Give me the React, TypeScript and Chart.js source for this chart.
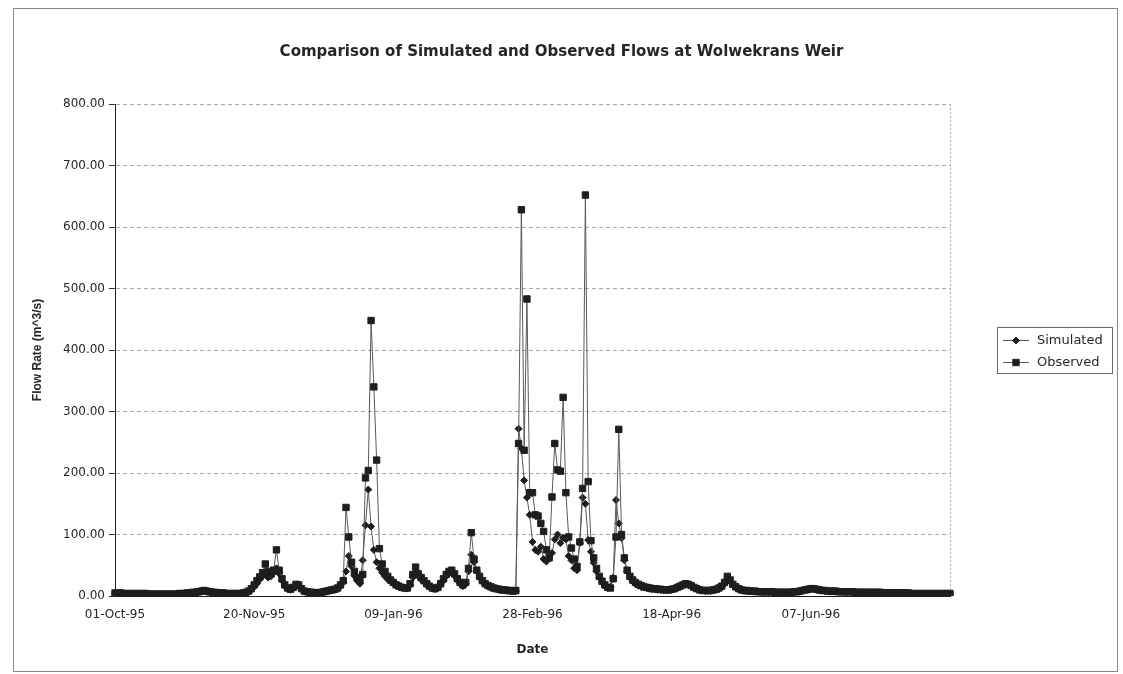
import React, { useEffect, useRef } from "react";
import { Chart, registerables } from "chart.js";

Chart.register(...registerables);

// Daily record, first day 01-Oct-1995
const START_DAY_UTC = Date.UTC(1995, 9, 1);
const MONTHS = ["Jan", "Feb", "Mar", "Apr", "May", "Jun", "Jul", "Aug", "Sep", "Oct", "Nov", "Dec"];
const LABEL_EVERY = 50;

const TITLE = "Comparison of Simulated and Observed Flows at Wolwekrans Weir";
const Y_TITLE = "Flow Rate (m^3/s)";
const X_TITLE = "Date";
const Y_MIN = 0;
const Y_MAX = 800;
const Y_STEP = 100;

// Flow rate, m^3/s, one value per day
const simulated = [
  4, 4, 4, 4, 4, 3, 3, 3, 3, 3,
  3, 3, 3, 3, 3, 3, 3, 3, 3, 3,
  3, 3, 3, 3, 4, 4, 4, 5, 5, 5,
  6, 7, 8, 7, 6, 6, 5, 5, 5, 4,
  4, 4, 4, 4, 4, 4, 4, 5, 7, 10,
  15, 20, 27, 32, 36, 30, 32, 38, 45, 36,
  25, 17, 12, 10, 12, 16, 16, 11, 8, 7,
  6, 5, 5, 5, 5, 6, 7, 8, 9, 10,
  12, 16, 22, 40, 65, 48, 33, 25, 20, 58,
  115, 173, 113, 75, 55, 45, 38, 32, 27, 24,
  21, 18, 16, 14, 13, 12, 18, 30, 36, 32,
  27, 23, 18, 15, 12, 11, 13, 18, 25, 32,
  37, 38, 33, 26, 20, 16, 20, 40, 67, 55,
  40, 30, 23, 19, 16, 14, 12, 11, 10, 9,
  9, 8, 8, 8, 8, 272, 240, 188, 160, 132,
  88, 75, 72, 80, 60, 56, 68, 70, 92, 100,
  86, 95, 92, 65, 58, 45, 42, 86, 160, 150,
  91, 72, 54, 40, 30, 22, 16, 13, 15, 30,
  156, 118, 94, 58, 40, 30, 24, 20, 17, 15,
  14, 13, 12, 11, 11, 10, 10, 10, 9, 9,
  10, 11, 13, 15, 17, 19, 18, 16, 13, 11,
  10, 9, 8, 8, 8, 9, 10, 12, 15, 20,
  28, 24, 18, 14, 11, 10, 8, 8, 8, 7,
  7, 7, 7, 6, 6, 6, 6, 6, 6, 6,
  6, 6, 6, 6, 6, 7, 7, 8, 9, 10,
  11, 11, 10, 9, 9, 8, 8, 7, 7, 7,
  7, 7, 6, 6, 6, 6, 6, 6, 6, 6,
  5, 5, 5, 5, 5, 5, 5, 5, 5, 5,
  5, 5, 4, 4, 4, 4, 4, 4, 4, 4,
  4, 4, 4, 4, 4, 3, 3, 3, 3, 3, 3,
];

const observed = [
  5, 5, 5, 4, 4, 4, 4, 4, 4, 4,
  4, 4, 3, 3, 3, 3, 3, 3, 3, 3,
  3, 3, 3, 4, 4, 4, 5, 5, 6, 6,
  7, 8, 9, 8, 7, 6, 6, 5, 5, 5,
  4, 4, 4, 4, 4, 4, 5, 6, 8, 12,
  18, 25, 31, 38, 52, 40, 36, 42, 75, 42,
  28, 18, 13, 11, 14, 19, 18, 12, 8, 7,
  6, 6, 5, 5, 6, 7, 8, 9, 10, 11,
  13, 18, 25, 144, 96, 55, 40, 30, 25, 35,
  192, 204, 448, 340, 221, 77, 52, 40, 32, 26,
  22, 18, 16, 14, 13, 13, 20, 35, 47, 36,
  30, 25, 20, 16, 13, 12, 14, 20, 28, 35,
  40, 42, 36, 28, 22, 18, 22, 45, 103, 60,
  42, 32, 25, 20, 17, 15, 13, 12, 11, 10,
  10, 9, 9, 8, 9, 248, 628, 237, 483, 168,
  168, 132, 130, 118, 105, 75, 62, 161, 248, 205,
  203, 323, 168, 96, 78, 60, 48, 88, 175, 652,
  186, 90, 62, 45, 32, 24, 18, 14, 13, 28,
  96, 271, 100, 62, 42, 32, 26, 22, 19, 17,
  15, 14, 13, 12, 12, 11, 11, 10, 10, 10,
  11, 12, 14, 16, 18, 20, 19, 17, 14, 12,
  10, 9, 9, 9, 9, 10, 11, 13, 16, 22,
  32, 26, 19, 15, 12, 10, 9, 9, 8, 8,
  8, 7, 7, 7, 7, 7, 7, 6, 6, 6,
  6, 6, 6, 6, 7, 7, 8, 9, 10, 11,
  12, 12, 11, 10, 9, 9, 8, 8, 8, 8,
  7, 7, 7, 7, 7, 7, 6, 6, 6, 6,
  6, 6, 6, 6, 6, 6, 5, 5, 5, 5,
  5, 5, 5, 5, 5, 5, 4, 4, 4, 4,
  4, 4, 4, 4, 4, 4, 4, 4, 4, 4, 4,
];

function dayLabel(index: number): string {
  const d = new Date(START_DAY_UTC + index * 86400000);
  const dd = String(d.getUTCDate()).padStart(2, "0");
  const yy = String(d.getUTCFullYear()).slice(2);
  return `${dd}-${MONTHS[d.getUTCMonth()]}-${yy}`;
}

const categories = observed.map((_, i) => dayLabel(i));

// every 50th day is labelled; the final day at the plot edge is left bare
function tickText(i: number): string {
  return i % LABEL_EVERY === 0 && i < categories.length - 1 ? categories[i] : "";
}

const TEXT = "#262626";
const SANS = "'DejaVu Sans', sans-serif";
const NARROW = "'Liberation Sans', Arial, sans-serif";
const LINE = "#5a5a5a";
const MARK = "#1e1e1e";

// white page with the thin outer frame of the chart sheet
const sheetFrame = {
  id: "sheetFrame",
  beforeDraw(chart: any) {
    const { ctx, width, height } = chart;
    ctx.save();
    ctx.fillStyle = "#ffffff";
    ctx.fillRect(0, 0, width, height);
    ctx.strokeStyle = "#8a8a8a";
    ctx.lineWidth = 1;
    ctx.strokeRect(13.5, 8.5, width - 19, height - 11);
    ctx.restore();
  },
};

// dotted right edge of the plot area
const plotEdge = {
  id: "plotEdge",
  beforeDatasetsDraw(chart: any) {
    const { ctx, chartArea } = chart;
    ctx.save();
    ctx.strokeStyle = "#b0b0b0";
    ctx.lineWidth = 1;
    ctx.setLineDash([2, 2]);
    ctx.beginPath();
    ctx.moveTo(Math.round(chartArea.right) + 0.5, chartArea.top);
    ctx.lineTo(Math.round(chartArea.right) + 0.5, chartArea.bottom);
    ctx.stroke();
    ctx.restore();
  },
};

function drawMarker(ctx: CanvasRenderingContext2D, style: string, x: number, y: number, r: number) {
  ctx.beginPath();
  if (style === "rectRot") {
    ctx.moveTo(x, y - r);
    ctx.lineTo(x + r, y);
    ctx.lineTo(x, y + r);
    ctx.lineTo(x - r, y);
    ctx.closePath();
  } else {
    const s = r * Math.SQRT1_2;
    ctx.rect(x - s, y - s, 2 * s, 2 * s);
  }
  ctx.fill();
  ctx.stroke();
}

// boxed legend to the right of the plot: line sample with marker, then name
const boxedLegend = {
  id: "boxedLegend",
  afterDraw(chart: any) {
    const { ctx, chartArea } = chart;
    const w = 115;
    const h = 46;
    const x0 = Math.round(chartArea.right) + 47;
    const y0 = Math.round((chartArea.top + chartArea.bottom) / 2 - h / 2);
    ctx.save();
    ctx.strokeStyle = "#6a6a6a";
    ctx.lineWidth = 1;
    ctx.strokeRect(x0 + 0.5, y0 + 0.5, w, h);
    ctx.font = `13px ${SANS}`;
    ctx.textBaseline = "middle";
    ctx.textAlign = "left";
    chart.data.datasets.forEach((ds: any, i: number) => {
      const y = y0 + 13 + i * 22;
      ctx.strokeStyle = ds.borderColor;
      ctx.lineWidth = 1;
      ctx.beginPath();
      ctx.moveTo(x0 + 6, y + 0.5);
      ctx.lineTo(x0 + 32, y + 0.5);
      ctx.stroke();
      ctx.fillStyle = ds.pointBackgroundColor;
      ctx.strokeStyle = ds.pointBorderColor;
      drawMarker(ctx, ds.pointStyle, x0 + 19, y + 0.5, ds.pointRadius);
      ctx.fillStyle = TEXT;
      ctx.fillText(ds.label, x0 + 40, y + 1);
    });
    ctx.restore();
  },
};

export default function App() {
  const canvasRef = useRef<HTMLCanvasElement | null>(null);

  useEffect(() => {
    if (!canvasRef.current) return;
    const chart = new Chart(canvasRef.current, {
      type: "line",
      data: {
        labels: categories,
        datasets: [
          {
            label: "Simulated",
            data: simulated,
            borderColor: LINE,
            borderWidth: 1,
            pointStyle: "rectRot",
            pointRadius: 3.5,
            pointBackgroundColor: MARK,
            pointBorderColor: MARK,
            pointBorderWidth: 1,
            tension: 0,
            order: 1,
          },
          {
            label: "Observed",
            data: observed,
            borderColor: LINE,
            borderWidth: 1,
            pointStyle: "rect",
            pointRadius: 4.5,
            pointBackgroundColor: MARK,
            pointBorderColor: MARK,
            pointBorderWidth: 1,
            tension: 0,
            order: 0,
          },
        ],
      },
      options: {
        responsive: false,
        animation: false,
        events: [],
        layout: { padding: 0 },
        plugins: {
          legend: { display: false },
          tooltip: { enabled: false },
          title: {
            display: true,
            text: TITLE,
            color: TEXT,
            font: { family: SANS, size: 15, weight: "bold" },
            padding: { top: 43, bottom: 43 },
          },
        },
        scales: {
          x: {
            type: "category",
            offset: false,
            grid: { display: false, drawTicks: false },
            border: { display: true, color: "#1e1e1e", width: 1 },
            ticks: {
              autoSkip: false,
              maxRotation: 0,
              minRotation: 0,
              padding: 12,
              color: TEXT,
              font: { family: SANS, size: 12 },
              callback: (_v: any, i: number) => tickText(i),
            },
            title: {
              display: true,
              text: X_TITLE,
              color: TEXT,
              font: { family: SANS, size: 12, weight: "bold" },
              padding: { top: 0, bottom: 17 },
            },
            afterFit: (scale: any) => {
              scale.height = 78;
            },
          },
          y: {
            min: Y_MIN,
            max: Y_MAX,
            ticks: {
              stepSize: Y_STEP,
              padding: 4,
              color: TEXT,
              font: { family: SANS, size: 12 },
              callback: (v: any) => Number(v).toFixed(2),
            },
            grid: {
              color: "#a8a8a8",
              lineWidth: 1,
              drawTicks: true,
              tickLength: 6,
              tickColor: "#333333",
              tickBorderDash: [],
            },
            border: { display: true, color: "#1e1e1e", width: 1, dash: [4, 3] },
            title: {
              display: true,
              text: Y_TITLE,
              color: TEXT,
              font: { family: NARROW, size: 12, weight: "bold" },
              padding: { top: 30, bottom: 0 },
            },
            afterFit: (scale: any) => {
              scale.width = 115;
            },
          },
          legendSpace: {
            type: "linear",
            position: "right",
            display: true,
            grid: { display: false, drawTicks: false },
            ticks: { display: false },
            border: { display: false },
            afterFit: (scale: any) => {
              scale.width = 173;
            },
          },
        },
      } as any,
      plugins: [sheetFrame, plotEdge, boxedLegend],
    });
    return () => chart.destroy();
  }, []);

  return (
    <div style={{ position: "absolute", left: 0, top: 0, width: 1123, height: 674 }}>
      <canvas ref={canvasRef} width={1123} height={674} />
    </div>
  );
}
